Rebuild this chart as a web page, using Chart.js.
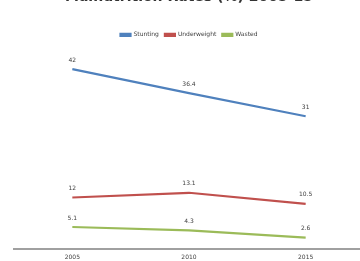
<!DOCTYPE html>
<html lang="en">
<head>
    <meta charset="UTF-8">
    <script src="https://cdn.jsdelivr.net/npm/chart.js"></script>
    <title>Malnutrition Rates</title>
    <style>
        body{ margin:0; background:#fff; overflow:hidden; }
        .container{ position:relative; top:-18px; width:364px; height:284px; }
    </style>
</head>
<body>
    <div class="container">
        <canvas id="myChart"></canvas>
    </div>
    <script>
        // values (estimates)
        const years = ['2005', '2010', '2015'];
        const stunting = [42, 36.4, 31];
        const underweight = [12, 13.1, 10.5];
        const wasted = [5.1, 4.3, 2.6];

        // little plugin: value over each point
        const pointLabels = {
            id: 'pointLabels',
            afterDatasetsDraw(chart){
                const ctx = chart.ctx;
                ctx.save();
                ctx.font = '6px "DejaVu Sans"';
                ctx.fillStyle = '#404040';
                ctx.textAlign = 'center';
                ctx.textBaseline = 'middle';
                chart.data.datasets.forEach(function(ds, i){
                    chart.getDatasetMeta(i).data.forEach(function(pt, j){
                        ctx.fillText(ds.data[j], pt.x, pt.y - 9);
                    });
                });
                ctx.restore();
            }
        };

        const ctx = document.getElementById('myChart');
        new Chart(ctx, {
            type: 'line',
            data: {
                labels: years,
                datasets: [
                    { label: 'Stunting', data: stunting, borderColor: '#4f81bd', backgroundColor: '#4f81bd' },
                    { label: 'Underweight', data: underweight, borderColor: '#c0504d', backgroundColor: '#c0504d' },
                    { label: 'Wasted', data: wasted, borderColor: '#9bbb59', backgroundColor: '#9bbb59' }
                ]
            },
            options: {
                responsive: true,
                maintainAspectRatio: false,
                animation: false,
                elements: {
                    line: { borderWidth: 2.2, tension: 0 },
                    point: { radius: 0 }
                },
                layout: { padding: { left: 14, right: 0, top: 0, bottom: 0 } },
                plugins: {
                    title: {
                        display: true,
                        text: 'Malnutrition Rates (%) 2005-15',
                        color: '#333',
                        font: { size: 14, weight: 'bold', family: '"DejaVu Sans"' },
                        padding: { top: 7, bottom: 20 }
                    },
                    legend: {
                        labels: {
                            boxWidth: 10, boxHeight: 2, padding: 6,
                            color: '#404040',
                            font: { size: 6, family: '"DejaVu Sans"' }
                        }
                    },
                    tooltip: { enabled: false }
                },
                scales: {
                    x: {
                        offset: true,
                        grid: { display: false, drawTicks: false },
                        border: { color: '#a0a0a0', width: 2 },
                        ticks: { color: '#404040', font: { size: 6, family: '"DejaVu Sans"' }, padding: 5 }
                    },
                    y: {
                        display: false,
                        min: 0,
                        max: 47
                    }
                }
            },
            plugins: [pointLabels]
        });
    </script>
</body>
</html>
